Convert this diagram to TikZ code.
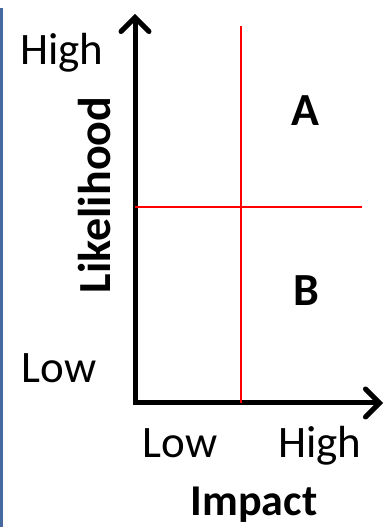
\documentclass[tikz,border=0pt]{standalone}
\usepackage{fontspec}
\setmainfont{Carlito}
\usetikzlibrary{arrows.meta}
\definecolor{frameblue}{RGB}{70,105,160}
\tikzset{
    axis/.style={line width=5pt, {Straight Barb[length=14pt,width=28pt,line cap=round]}-{Straight Barb[length=14pt,width=28pt,line cap=round]}},
    divider/.style={red, line width=1.6pt},
    lbl/.style={font=\fontsize{45}{54}\selectfont, inner sep=0pt, anchor=base},
    boldlbl/.style={lbl, font=\fontsize{46}{55}\selectfont\bfseries}
}
\begin{document}
\begin{tikzpicture}[x=1pt,y=1pt]
    \useasboundingbox (0,0) rectangle (386,527);
    % Frame edge on the left
    \draw[frameblue, line width=3pt, rounded corners=2pt] (1.5,0) -- (1.5,519);

    % Axes
    \coordinate (O) at (135,124);
    \coordinate (top) at (135,513);
    \coordinate (right) at (383,124);
    \draw[axis] (top) -- (O) -- (right);

    % Quadrant dividers
    \coordinate (midx) at (241,124);
    \draw[divider] (midx) -- ++(0,377) coordinate (midxtop);
    \coordinate (midy) at (135,320);
    \draw[divider] (midy) -- ++(227,0) coordinate (midyend);

    % Labels on the likelihood axis
    \node[lbl] (lhigh) at (62,462) {High};
    \node[lbl] (llow) at (59,144) {Low};
    \node[boldlbl, anchor=center, rotate=90] (likelihood) at (95,332) {Likelihood};

    % Labels on the impact axis
    \node[lbl] (ilow) at (180,69) {Low};
    \node[lbl] (ihigh) at (320,69) {High};
    \node[boldlbl, font=\fontsize{44}{53}\selectfont\bfseries] (impact) at (254,12) {Impact};

    % Quadrant letters
    \node[boldlbl] (qa) at (305,401) {A};
    \node[boldlbl] (qb) at (306,221) {B};
\end{tikzpicture}
\end{document}
